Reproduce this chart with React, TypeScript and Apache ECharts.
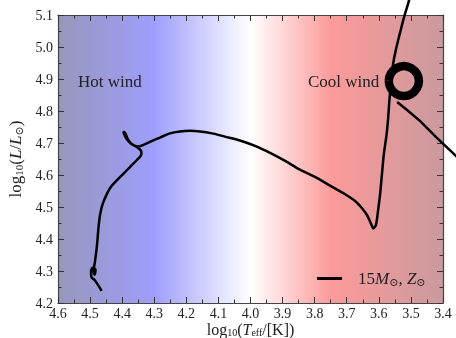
import React, { useEffect, useRef } from "react";
import * as echarts from "echarts";

// Evolutionary track (log Teff, log L):
// from the ZAMS up to where it leaves the top of the frame
const trackTeff = [
  4.464, 4.475, 4.486, 4.496, 4.497, 4.491, 4.483, 4.486, 4.489, 4.485,
  4.480, 4.477, 4.474, 4.469, 4.461, 4.449, 4.435, 4.416, 4.394, 4.373,
  4.354, 4.340, 4.341, 4.352, 4.373, 4.387, 4.394, 4.396, 4.390, 4.382,
  4.368, 4.351, 4.332, 4.310, 4.282, 4.251, 4.220, 4.189, 4.157, 4.120,
  4.080, 4.033, 3.986, 3.939, 3.892, 3.846, 3.799, 3.752, 3.712, 3.674,
  3.653, 3.637, 3.624, 3.617, 3.609, 3.603, 3.596, 3.590, 3.584, 3.576,
  3.571, 3.567, 3.562, 3.556, 3.547, 3.534, 3.522, 3.508, 3.497,
];
const trackL = [
  4.238, 4.256, 4.272, 4.281, 4.300, 4.311, 4.303, 4.288, 4.300, 4.328,
  4.366, 4.397, 4.434, 4.475, 4.509, 4.538, 4.563, 4.584, 4.606, 4.628,
  4.647, 4.666, 4.675, 4.686, 4.698, 4.714, 4.728, 4.736, 4.730, 4.711,
  4.695, 4.689, 4.695, 4.705, 4.717, 4.730, 4.736, 4.738, 4.736, 4.730,
  4.720, 4.708, 4.691, 4.669, 4.644, 4.617, 4.594, 4.567, 4.544, 4.519,
  4.497, 4.475, 4.447, 4.433, 4.444, 4.484, 4.541, 4.606, 4.669, 4.725,
  4.778, 4.834, 4.891, 4.944, 4.991, 5.044, 5.091, 5.138, 5.178,
];

// The part that re-enters from beyond the right edge and ends at the loop
const returnTeff = [3.254, 3.316, 3.363, 3.419, 3.472, 3.512, 3.543];
const returnL = [4.553, 4.616, 4.663, 4.716, 4.769, 4.803, 4.828];

// Late-stage loop near the top right (traced as a closed curve)
const loopTeff = [3.569, 3.5625, 3.545, 3.522, 3.499, 3.4815, 3.475, 3.4815, 3.499, 3.522, 3.545, 3.5625, 3.569, 3.5625, 3.545];
const loopL = [4.894, 4.917, 4.934, 4.941, 4.934, 4.917, 4.894, 4.871, 4.853, 4.847, 4.853, 4.871, 4.894, 4.917, 4.934];

const trackName = "15Msun, Zsun";
const xMin = 3.4;
const xMax = 4.6;
const yMin = 4.2;
const yMax = 5.1;

const SERIF = "'Liberation Serif', 'DejaVu Serif', serif";

export default function App() {
  const ref = useRef<HTMLDivElement>(null);

  useEffect(() => {
    if (!ref.current) return;
    const chart = echarts.init(ref.current, undefined, { renderer: "svg" });
    const track = trackTeff.map((t, i) => [t, trackL[i]]);
    const back = returnTeff.map((t, i) => [t, returnL[i]]);
    const loop = loopTeff.map((t, i) => [t, loopL[i]]);

    const subRich = {
      n: { fontFamily: SERIF, fontSize: 17, color: "#222", lineHeight: 17 },
      i: { fontFamily: SERIF, fontSize: 17, color: "#222", fontStyle: "italic", lineHeight: 17 },
      s: { fontFamily: SERIF, fontSize: 11, color: "#222", verticalAlign: "bottom", lineHeight: 10 },
    };
    const xNameRich = {
      n: { fontFamily: SERIF, fontSize: 16, color: "#222", lineHeight: 16 },
      i: { fontFamily: SERIF, fontSize: 16, color: "#222", fontStyle: "italic", lineHeight: 16 },
      s: { fontFamily: SERIF, fontSize: 10, color: "#222", verticalAlign: "bottom", lineHeight: 9 },
    };

    const tickCommon = {
      axisLine: { show: true, onZero: false, lineStyle: { color: "#444", width: 1.2 } },
      axisTick: { show: true, inside: true, length: 6, lineStyle: { color: "#333", width: 1 } },
      minorTick: { show: true, splitNumber: 2, length: 3.5, lineStyle: { color: "#333", width: 1 } },
      splitLine: { show: false },
      minorSplitLine: { show: false },
    };

    const lineSeriesBase = {
      type: "line",
      showSymbol: false,
      symbol: "none",
      clip: false,
      z: 5,
      color: "#000",
    };

    chart.setOption({
      animation: false,
      grid: {
        left: 58,
        right: 13,
        top: 15,
        bottom: 35,
        containLabel: false,
        outerBoundsMode: "none",
        show: true,
        borderWidth: 0,
        backgroundColor: {
          type: "linear",
          x: 0,
          y: 0,
          x2: 1,
          y2: 0,
          colorStops: [
            { offset: 0, color: "#9797bb" },
            { offset: 0.25, color: "#9e9efd" },
            { offset: 0.5, color: "#ffffff" },
            { offset: 0.71, color: "#fd9a9a" },
            { offset: 1, color: "#c99a9e" },
          ],
        },
      },
      xAxis: [
        {
          type: "value",
          min: xMin,
          max: xMax,
          interval: 0.1,
          inverse: true,
          position: "bottom",
          ...tickCommon,
          axisLabel: {
            margin: 4,
            color: "#222",
            fontFamily: SERIF,
            fontSize: 14,
            lineHeight: 12,
            formatter: (v: number) => v.toFixed(1),
          },
          name: "{n|log}{s|10}{n|(}{i|T}{s|eff}{n|/[K])}",
          nameLocation: "middle",
          nameGap: 18,
          nameMoveOverlap: false,
          nameTextStyle: { rich: xNameRich },
        },
        {
          type: "value",
          min: xMin,
          max: xMax,
          interval: 0.1,
          inverse: true,
          position: "top",
          ...tickCommon,
          axisLabel: { show: false },
        },
      ],
      yAxis: [
        {
          type: "value",
          min: yMin,
          max: yMax,
          interval: 0.1,
          position: "left",
          ...tickCommon,
          axisLabel: {
            margin: 5,
            color: "#222",
            fontFamily: SERIF,
            fontSize: 14,
            formatter: (v: number) => v.toFixed(1),
          },
          name: "{n|log}{s|10}{n|(}{i|L}{n|/}{i|L}{s|⊙}{n|)}",
          nameLocation: "middle",
          nameGap: 34,
          nameRotate: 90,
          nameMoveOverlap: false,
          nameTextStyle: { rich: subRich },
        },
        {
          type: "value",
          min: yMin,
          max: yMax,
          interval: 0.1,
          position: "right",
          ...tickCommon,
          axisLabel: { show: false },
        },
      ],
      legend: {
        data: [{ name: trackName, icon: "rect", itemStyle: { color: "#000", borderWidth: 0 } }],
        left: 317,
        top: 270,
        padding: 0,
        itemWidth: 25,
        itemHeight: 3,
        formatter: () => "{n|15}{i|M}{s|⊙}{n|, }{i|Z}{s|⊙}",
        textStyle: { padding: [0, 0, 0, 11], rich: subRich },
      },
      graphic: [
        {
          type: "text",
          x: 78,
          y: 81,
          z: 1,
          style: { text: "Hot wind", font: `17px ${SERIF}`, fill: "#222", align: "left", verticalAlign: "middle" },
        },
        {
          type: "text",
          x: 308,
          y: 81,
          z: 1,
          style: { text: "Cool wind", font: `17px ${SERIF}`, fill: "#222", align: "left", verticalAlign: "middle" },
        },
      ],
      series: [
        {
          ...lineSeriesBase,
          name: trackName,
          data: track,
          smooth: 0.3,
          lineStyle: { color: "#000", width: 2.5 },
        },
        {
          name: "return",
          type: "lines",
          coordinateSystem: "cartesian2d",
          polyline: true,
          clip: false,
          z: 5,
          data: [{ coords: back }],
          lineStyle: { color: "#000", width: 2.5, opacity: 1 },
        },
        {
          ...lineSeriesBase,
          name: "loop",
          data: loop,
          smooth: true,
          lineStyle: { color: "#000", width: 8.5 },
        },
      ],
    });
    return () => chart.dispose();
  }, []);

  return <div ref={ref} style={{ position: "fixed", left: 0, top: 0, width: 456, height: 338 }} />;
}
